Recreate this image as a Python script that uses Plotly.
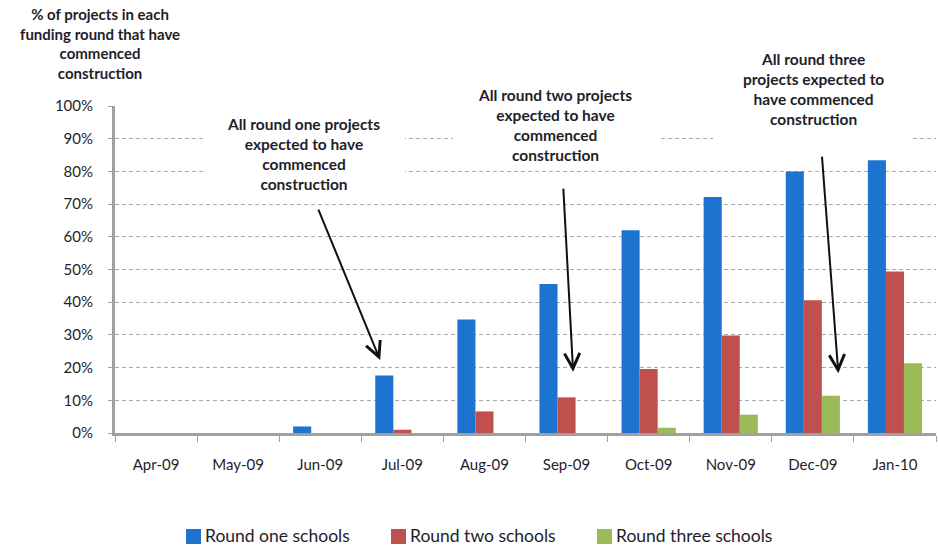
import plotly.graph_objects as go

# Months of the programme and share of projects that have started on site (%)
months = ["Apr-09", "May-09", "Jun-09", "Jul-09", "Aug-09", "Sep-09",
          "Oct-09", "Nov-09", "Dec-09", "Jan-10"]
round_one = [0, 0, 2.0, 17.6, 34.7, 45.6, 62.0, 72.2, 80.0, 83.4]
round_two = [0, 0, 0, 1.0, 6.6, 10.9, 19.6, 29.8, 40.6, 49.4]
round_three = [0, 0, 0, 0, 0, 0, 1.6, 5.6, 11.4, 21.3]

series_names = ["Round one schools", "Round two schools", "Round three schools"]
series_colors = ["#1C73D0", "#C0504D", "#9BBB59"]

FONT = "Lato, 'Open Sans', sans-serif"
TEXT_COLOR = "#1e1e2a"

# Plot area in pixels (used to place the paper-anchored decorations)
W, H = 938, 546
L, R, T, B = 115, 2, 106, 113
PW, PH = W - L - R, H - T - B


def px(xp):
    return (xp - L) / PW


def py(yp):
    return (H - B - yp) / PH


fig = go.Figure()
for name, values, color in zip(series_names, [round_one, round_two, round_three], series_colors):
    fig.add_trace(go.Bar(x=months, y=values, name=name,
                         marker=dict(color=color, line=dict(width=0))))

fig.update_layout(
    width=W, height=H,
    margin=dict(l=L, r=R, t=T, b=B, autoexpand=False),
    paper_bgcolor="white", plot_bgcolor="white",
    barmode="group", bargap=0.34, bargroupgap=0,
    font=dict(family=FONT, size=15, color=TEXT_COLOR),
    showlegend=False,
)

fig.update_yaxes(
    range=[0, 100], dtick=10, ticksuffix="%",
    showgrid=True, gridcolor="#a8a8a8", griddash="4px,3px", gridwidth=1,
    showline=True, linecolor="#a0a0a0", linewidth=3,
    ticks="outside", ticklen=4, tickcolor="#a0a0a0", tickwidth=1,
    ticklabelstandoff=12, tickfont=dict(size=15),
    zeroline=False, fixedrange=True, automargin=False,
)
fig.update_xaxes(
    type="category", range=[-0.5, 9.5],
    showline=True, linecolor="#a0a0a0", linewidth=3,
    ticks="outside", tickson="boundaries", ticklen=6, tickcolor="#a0a0a0", tickwidth=1,
    ticklabelstandoff=16, tickfont=dict(size=15),
    showgrid=False, fixedrange=True, automargin=False,
)

# White text boxes behind the call-outs (they hide the gridlines)
for x0, x1, y0 in [(205, 405, 190), (453, 660, 160), (713, 912, 160)]:
    fig.add_shape(type="rect", xref="paper", yref="paper",
                  x0=px(x0), x1=px(x1), y0=py(y0), y1=py(85),
                  fillcolor="white", line=dict(width=0), layer="above")

# Call-out texts
callouts = [
    ("<b>All round one projects<br>expected to have<br>commenced<br>construction</b>", 303, 154),
    ("<b>All round two projects<br>expected to have<br>commenced<br>construction</b>", 555, 125),
    ("<b>All round three<br>projects expected to<br>have commenced<br>construction</b>", 813, 89),
]
for text, x, y in callouts:
    fig.add_annotation(text=text, xref="paper", yref="paper", x=px(x), y=py(y),
                       xanchor="center", yanchor="middle", showarrow=False,
                       font=dict(size=15.5, color=TEXT_COLOR, family=FONT), align="center")

# Arrows from each call-out to its month (tip x, tip y, tail x, tail y in data units)
arrows = [(2.73, 22.3, 1.97, 68.8), (5.08, 18.7, 4.96, 75.2), (8.31, 18.3, 8.11, 85.0)]
for x, y, ax, ay in arrows:
    fig.add_annotation(x=x, y=y, ax=ax, ay=ay, xref="x", yref="y", axref="x", ayref="y",
                       text="", showarrow=True, arrowhead=5, arrowsize=1.5,
                       arrowwidth=2, arrowcolor="#111111")

# Axis title at the top left
fig.add_annotation(
    text="<b>% of projects in each<br>funding round that have<br>commenced<br>construction</b>",
    xref="paper", yref="paper", x=px(100), y=py(44), xanchor="center", yanchor="middle",
    showarrow=False, align="center", font=dict(size=15, color=TEXT_COLOR, family=FONT),
)

# Legend row under the axis: square swatch followed by the series name
legend_x = [186, 391, 597]
legend_y = 535
for name, color, x in zip(series_names, series_colors, legend_x):
    fig.add_shape(type="rect", xref="paper", yref="paper",
                  x0=px(x), x1=px(x + 15), y0=py(legend_y + 9), y1=py(legend_y - 6),
                  fillcolor=color, line=dict(width=0))
    fig.add_annotation(text=name, xref="paper", yref="paper", x=px(x + 17), y=py(legend_y),
                       xanchor="left", yanchor="middle", showarrow=False,
                       font=dict(size=17.5, color=TEXT_COLOR, family=FONT))

fig.write_html("out.html")
